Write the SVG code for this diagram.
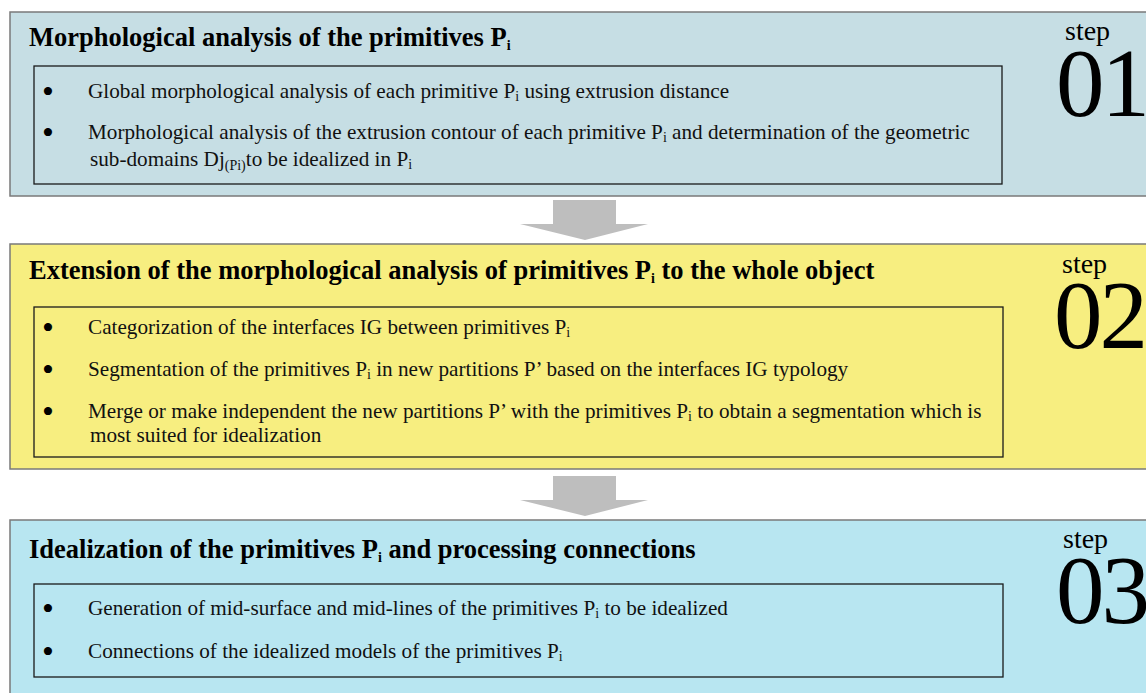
<svg xmlns="http://www.w3.org/2000/svg" width="1146" height="693" viewBox="0 0 1146 693">
<style>
.panel{stroke:#7a7a7a;stroke-width:1.5}
.inner{fill:none;stroke:#1a1a1a;stroke-width:1.3}
.title{font-family:"Liberation Serif",serif;font-weight:bold;font-size:26.5px;fill:#000}
.item{font-family:"Liberation Serif",serif;font-size:21.2px;fill:#111}
.bul{font-family:"Liberation Serif",serif;font-size:34px;fill:#000}
.sub{font-size:14px}
.step{font-family:"Liberation Serif",serif;font-size:28px;fill:#000}
.num{font-family:"Liberation Serif",serif;font-size:97px;letter-spacing:-3px;fill:#000}
.arrow{fill:#bebebe}
</style>
<rect width="1146" height="693" fill="#ffffff"/>
<g id="step1">
<rect class="panel" x="10" y="12" width="1140" height="184" fill="#c6dee4"/>
<text class="title" x="29" y="46">Morphological analysis of the primitives P<tspan class="sub" dy="4" font-size="16">i</tspan></text>
<rect class="inner" x="34" y="66" width="968" height="118"/>
<text class="bul" x="42" y="103">•</text>
<text class="item" x="88" y="98">Global morphological analysis of each primitive P<tspan class="sub" dy="3">i</tspan><tspan dy="-3"> using extrusion distance</tspan></text>
<text class="bul" x="42" y="144">•</text>
<text class="item" x="88" y="139">Morphological analysis of the extrusion contour of each primitive P<tspan class="sub" dy="3">i</tspan><tspan dy="-3"> and determination of the geometric</tspan></text>
<text class="item" x="90" y="166">sub-domains Dj<tspan class="sub" dy="4" font-size="12.5">(Pi)</tspan><tspan dy="-4">to be idealized in P</tspan><tspan class="sub" dy="3">i</tspan></text>
<text class="step" x="1065" y="40">step</text>
<text class="num" x="1056" y="116">01</text>
</g>
<g id="step2">
<rect class="panel" x="10" y="244" width="1140" height="225" fill="#f7ee80" stroke="#6b6b40"/>
<text class="title" x="29" y="279">Extension of the morphological analysis of primitives P<tspan class="sub" dy="4" font-size="16">i</tspan><tspan dy="-4"> to the whole object</tspan></text>
<rect class="inner" x="34" y="307" width="969" height="150"/>
<text class="bul" x="42" y="339">•</text>
<text class="item" x="88" y="334">Categorization of the interfaces IG between primitives P<tspan class="sub" dy="3">i</tspan></text>
<text class="bul" x="42" y="381">•</text>
<text class="item" x="88" y="376">Segmentation of the primitives P<tspan class="sub" dy="3">i</tspan><tspan dy="-3"> in new partitions P’ based on the interfaces IG typology</tspan></text>
<text class="bul" x="42" y="423">•</text>
<text class="item" x="88" y="418">Merge or make independent the  new partitions P’ with the primitives P<tspan class="sub" dy="3">i</tspan><tspan dy="-3"> to obtain a segmentation which is</tspan></text>
<text class="item" x="90" y="442">most suited for idealization</text>
<text class="step" x="1062" y="273">step</text>
<text class="num" x="1054" y="348">02</text>
</g>
<g id="step3">
<rect class="panel" x="10" y="520" width="1140" height="180" fill="#b8e6f1"/>
<text class="title" x="29" y="558">Idealization of the primitives P<tspan class="sub" dy="4" font-size="16">i</tspan><tspan dy="-4"> and processing connections</tspan></text>
<rect class="inner" x="34" y="584" width="969" height="93"/>
<text class="bul" x="42" y="620">•</text>
<text class="item" x="88" y="615">Generation of mid-surface and mid-lines of the primitives P<tspan class="sub" dy="3">i</tspan><tspan dy="-3"> to be idealized</tspan></text>
<text class="bul" x="42" y="663">•</text>
<text class="item" x="88" y="658">Connections of the idealized models of the primitives P<tspan class="sub" dy="3">i</tspan></text>
<text class="step" x="1063" y="548">step</text>
<text class="num" x="1056" y="623">03</text>
</g>
<g id="connectors">
<polygon class="arrow" points="553,200 616,200 616,224 648,224 585,240 520,224 553,224"/>
<polygon class="arrow" points="553,476 616,476 616,500 648,500 585,516 520,500 553,500"/>
</g>
</svg>
